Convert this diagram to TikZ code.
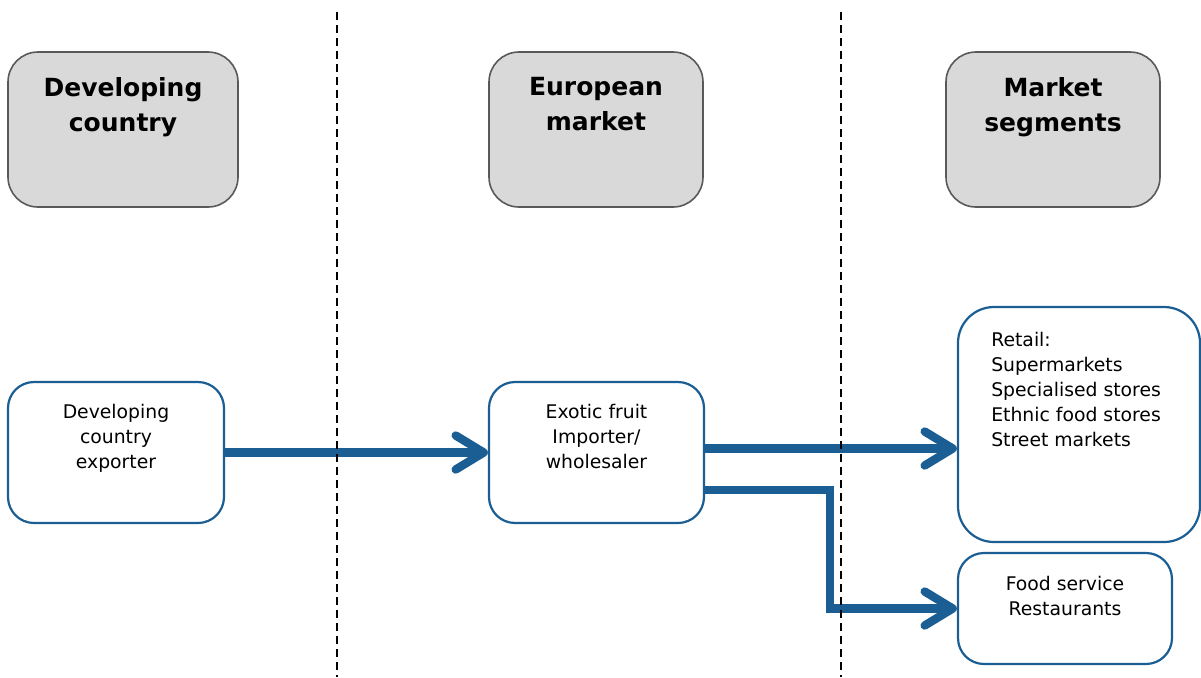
\documentclass[tikz,border=0pt]{standalone}
\usepackage{fontspec}
\setmainfont{DejaVu Sans}
\usetikzlibrary{arrows.meta,positioning}

\definecolor{chainblue}{HTML}{1A5E94}
\definecolor{headgray}{HTML}{D9D9D9}
\definecolor{headline}{HTML}{595959}

\tikzset{
    headbox/.style={draw=headline, line width=0.8pt, fill=headgray, rounded corners=15pt, minimum height=77.5pt},
    headtext/.style={align=center, inner sep=0pt, font=\bfseries\fontsize{12.5}{17.5}\selectfont},
    actorbox/.style={draw=chainblue, line width=1.1pt, fill=white, rounded corners=13pt},
    actortext/.style={align=center, inner sep=0pt, font=\fontsize{9.4}{12.5}\selectfont},
    flow/.style={draw=chainblue, line width=4.2pt, -{Straight Barb[length=14pt,width=17pt,line cap=round,line join=round]}},
    divider/.style={draw=black, line width=0.7pt, dash pattern=on 4pt off 2.5pt}
}

\begin{document}
\begin{tikzpicture}[x=0.5pt, y=-0.5pt]

    \useasboundingbox (0,0) rectangle (1201,677);

    % Column headers
    \node[headbox, minimum width=115pt] (hdev) at (123,129.5) {};
    \node[headbox, minimum width=107pt] (heur) at (596,129.5) {};
    \node[headbox, minimum width=107pt] (hseg) at (1053,129.5) {};
    \node[headtext, below=13pt of hdev.north] (hdevtxt) {Developing\\country};
    \node[headtext, below=13pt of heur.north] (heurtxt) {European\\market};
    \node[headtext, below=13pt of hseg.north] (hsegtxt) {Market\\segments};

    % Chain actors
    \node[actorbox, minimum width=108pt, minimum height=70.5pt] (exporter) at (116,452.5) {};
    \node[actorbox, minimum width=107.5pt, minimum height=70.5pt] (importer) at (596.5,452.5) {};
    \node[actorbox, minimum width=121pt, minimum height=117.5pt, rounded corners=18pt] (retail) at (1079,424.5) {};
    \node[actorbox, minimum width=107pt, minimum height=55.5pt] (food) at (1065,608.5) {};

    \node[actortext, below=11.5pt of exporter.north] (exportertxt) {Developing\\country\\exporter};
    \node[actortext, below=11.5pt of importer.north] (importertxt) {Exotic fruit\\Importer/\\wholesaler};
    \node[actortext, align=left, anchor=north west] (retailtxt) at ([xshift=17pt,yshift=-13pt]retail.north west) {Retail:\\Supermarkets\\Specialised stores\\Ethnic food stores\\Street markets};
    \node[actortext, below=12pt of food.north] (foodtxt) {Food service\\Restaurants};

    % Flows
    \coordinate (turn) at (830,0);
    \draw[flow] (exporter) -- (importer);
    \draw[flow] ([yshift=2pt]importer.east) -- ([yshift=2pt]importer.east -| retail.west);
    \draw[flow] ([yshift=-18.75pt]importer.east) -| (turn |- food.west) -- (food.west);

    % Dashed separators between the columns
    \foreach \x in {337,841} {
        \draw[divider] (\x,12) -- (\x,677);
    }

\end{tikzpicture}
\end{document}
